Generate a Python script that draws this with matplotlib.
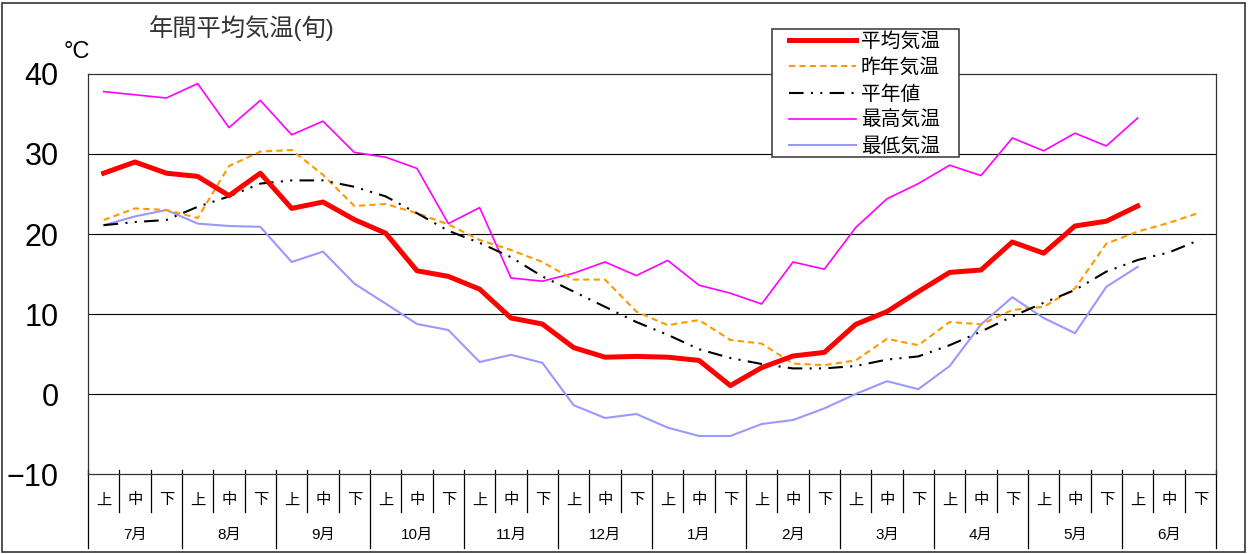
import numpy as np
import matplotlib
matplotlib.use("Agg")
import matplotlib.pyplot as plt
from matplotlib.patches import Rectangle

plt.rcParams['font.family'] = ['Liberation Sans', 'Noto Sans CJK JP', 'DejaVu Sans']

# dekads from 7月上 to 6月下
months = ['7月', '8月', '9月', '10月', '11月', '12月', '1月', '2月', '3月', '4月', '5月', '6月']
dekads = ['上', '中', '下']

avg_temp = [27.6, 29.0, 27.6, 27.2, 24.8, 27.6, 23.2, 24.0, 21.8, 20.1, 15.4, 14.7,
            13.1, 9.5, 8.75, 5.8, 4.6, 4.7, 4.6, 4.2, 1.05, 3.3, 4.75, 5.2,
            8.7, 10.3, 12.8, 15.2, 15.5, 19.0, 17.6, 21.0, 21.6, 23.5]
last_year = [21.75, 23.2, 23.0, 22.0, 28.5, 30.3, 30.5, 27.4, 23.5, 23.75, 22.6, 21.2,
             19.25, 18.0, 16.5, 14.3, 14.3, 10.3, 8.6, 9.25, 6.75, 6.3, 3.8, 3.6,
             4.2, 6.9, 6.1, 9.0, 8.7, 10.5, 10.9, 13.2, 18.8, 20.3, 21.4, 22.7]
normal = [21.1, 21.5, 21.75, 23.4, 24.7, 26.3, 26.7, 26.7, 25.9, 24.7, 22.6, 20.4,
          18.9, 17.1, 14.7, 12.8, 10.9, 9.0, 7.4, 5.6, 4.5, 3.75, 3.2, 3.2,
          3.5, 4.3, 4.7, 6.1, 7.8, 9.7, 11.4, 13.0, 15.3, 16.75, 17.7, 19.3]
max_temp = [37.8, 37.4, 37.0, 38.8, 33.3, 36.7, 32.4, 34.1, 30.2, 29.6, 28.2, 21.3,
            23.3, 14.5, 14.1, 15.1, 16.5, 14.8, 16.7, 13.6, 12.6, 11.25, 16.5, 15.6,
            20.8, 24.4, 26.3, 28.6, 27.3, 32.0, 30.4, 32.6, 31.0, 34.5]
min_temp = [21.1, 22.2, 23.0, 21.3, 21.0, 20.9, 16.5, 17.8, 13.8, 11.3, 8.75, 8.0,
            4.0, 4.9, 3.9, -1.4, -3.0, -2.5, -4.2, -5.25, -5.25, -3.75, -3.25, -1.8,
            0.0, 1.6, 0.6, 3.5, 8.7, 12.1, 9.5, 7.6, 13.4, 15.9]

W, H = 1248, 554
fig = plt.figure(figsize=(W / 100, H / 100), dpi=100)
ax = fig.add_axes([88 / W, (H - 474) / H, (1216 - 88) / W, 400 / H])

ax.plot(np.arange(len(avg_temp)), avg_temp, color='#ff0000', lw=3.6, label='平均気温',
        solid_joinstyle='round', zorder=5)
ax.plot(np.arange(len(last_year)), last_year, color='#ff9900', lw=1.5, ls=(0, (3, 2)),
        label='昨年気温', zorder=4)
ax.plot(np.arange(len(normal)), normal, color='black', lw=1.5,
        ls=(0, (7, 3.5, 1, 3.5, 1, 3.5)), label='平年値', zorder=4)
ax.plot(np.arange(len(max_temp)), max_temp, color='#ff00ff', lw=1.2, label='最高気温', zorder=3)
ax.plot(np.arange(len(min_temp)), min_temp, color='#9999ff', lw=1.5, label='最低気温', zorder=3)

ax.set_xlim(-0.5, 35.5)
ax.set_ylim(-10, 40)
ax.set_yticks([-10, 0, 10, 20, 30, 40])
ax.set_yticklabels(['−10', '0', '10', '20', '30', '40'], fontsize=22)
ax.tick_params(axis='y', length=0, pad=21)
ax.set_xticks([])
for v in [0, 10, 20, 30]:
    ax.axhline(v, color='black', lw=0.8, zorder=1)
for s in ax.spines.values():
    s.set_color('#333333')
    s.set_linewidth(0.9)

# category table below the axis
trans = ax.get_xaxis_transform()
for b in range(37):
    x = b - 0.5
    y_low = -0.185 if b % 3 == 0 else -0.095
    ax.plot([x, x], [0.01, y_low], color='black', lw=0.9, transform=trans, clip_on=False)
for i in range(36):
    ax.text(i, -0.066, dekads[i % 3], transform=trans, ha='center', va='center', fontsize=11)
for m, name in enumerate(months):
    ax.text(3 * m + 1, -0.152, name, transform=trans, ha='center', va='center', fontsize=11)

fig.text(242 / W, 1 - 28 / H, '年間平均気温(旬)', ha='center', va='center', fontsize=17.5,
         color='#333333')
fig.text(77 / W, 1 - 52 / H, '°C', ha='center', va='center', fontsize=17)

# legend box drawn by hand, legend entries placed inside it
fig.patches.append(Rectangle((772 / W, 1 - 157 / H), (959 - 772) / W, (157 - 29) / H,
                             transform=fig.transFigure, facecolor='white',
                             edgecolor='#444444', lw=1.2, zorder=4))
leg = fig.legend(loc='upper left', bbox_to_anchor=(789 / W, 1 - 32 / H), fontsize=14.2,
                 frameon=False, handlelength=3.4, labelspacing=0.37, borderpad=0,
                 handletextpad=0.25, borderaxespad=0)
leg.set_zorder(6)

fig.patches.append(Rectangle((2 / W, 2 / H), (W - 5) / W, (H - 5) / H, transform=fig.transFigure,
                             fill=False, edgecolor='#333333', lw=1.2))

fig.savefig('out.png', dpi=100)
